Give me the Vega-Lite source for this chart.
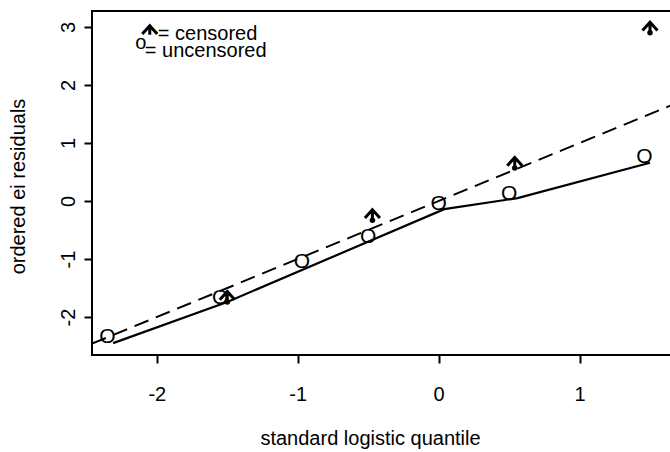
{
  "$schema": "https://vega.github.io/schema/vega-lite/v6.json",
  "autosize": {"type": "none"},
  "padding": {"left": 92, "top": 11, "right": 0, "bottom": 97},
  "width": 589,
  "height": 344,
  "background": "white",
  "config": {
    "font": "Liberation Sans",
    "view": {"stroke": "black", "strokeWidth": 2},
    "axis": {
      "grid": false,
      "domain": false,
      "tickColor": "black",
      "tickWidth": 2,
      "tickSize": 8,
      "labelColor": "black",
      "labelFontSize": 20,
      "labelFont": "Liberation Sans",
      "titleColor": "black",
      "titleFontSize": 20,
      "titleFont": "Liberation Sans",
      "titleFontWeight": "normal"
    }
  },
  "datasets": {
    "uncensored": [
      {"q": -2.35, "r": -2.33},
      {"q": -1.55, "r": -1.66},
      {"q": -0.97, "r": -1.03},
      {"q": -0.5, "r": -0.6},
      {"q": 0.0, "r": -0.03},
      {"q": 0.5, "r": 0.14},
      {"q": 1.46, "r": 0.78}
    ],
    "censored": [
      {"q": -1.5, "r": -1.74},
      {"q": -0.47, "r": -0.33},
      {"q": 0.54, "r": 0.57},
      {"q": 1.5, "r": 2.9}
    ],
    "fitted": [
      {"q": -2.31, "r": -2.45},
      {"q": -1.5, "r": -1.74},
      {"q": 0.04, "r": -0.14},
      {"q": 0.56, "r": 0.05},
      {"q": 1.5, "r": 0.66}
    ],
    "identity": [
      {"q": -2.46, "r": -2.46},
      {"q": 1.72, "r": 1.72}
    ],
    "keyText": [
      {"q": -1.993, "r": 2.875, "label": "= censored"},
      {"q": -2.085, "r": 2.59, "label": "= uncensored"}
    ],
    "keyOpen": [
      {"q": -2.113, "r": 2.72, "label": "o"}
    ],
    "keyCensored": [
      {"q": -2.05, "r": 2.84}
    ]
  },
  "encoding": {
    "x": {
      "field": "q",
      "type": "quantitative",
      "scale": {"domain": [-2.46, 1.72], "nice": false, "zero": false},
      "axis": {
        "values": [-2, -1, 0, 1],
        "labelExpr": "'' + datum.value",
        "labelPadding": 21,
        "title": "standard logistic quantile",
        "titleX": 278,
        "titleY": 83,
        "titleBaseline": "middle",
        "titleAlign": "center"
      }
    },
    "y": {
      "field": "r",
      "type": "quantitative",
      "scale": {"domain": [-2.655, 3.276], "nice": false, "zero": false},
      "axis": {
        "values": [-2, -1, 0, 1, 2, 3],
        "labelExpr": "'' + datum.value",
        "labelAngle": 270,
        "labelAlign": "center",
        "labelBaseline": "bottom",
        "labelPadding": 6,
        "title": "ordered ei residuals",
        "titleAngle": 270,
        "titleX": -74,
        "titleY": 175,
        "titleBaseline": "middle",
        "titleAlign": "center"
      }
    }
  },
  "layer": [
    {
      "data": {"name": "identity"},
      "mark": {"type": "line", "color": "black", "strokeWidth": 2, "strokeDash": [15, 8], "clip": true}
    },
    {
      "data": {"name": "fitted"},
      "mark": {"type": "line", "color": "black", "strokeWidth": 2.2, "clip": true}
    },
    {
      "data": {"name": "uncensored"},
      "mark": {"type": "text", "text": "O", "fontSize": 21, "font": "Liberation Sans", "color": "black", "baseline": "middle", "align": "center", "dy": 1}
    },
    {
      "data": {"name": "censored"},
      "mark": {"type": "point", "shape": "M -1 -0.3 L 0 -1.4 L 1 -0.3 M 0 -1.4 L 0 -0.2", "size": 225, "filled": false, "stroke": "black", "strokeWidth": 3, "opacity": 1}
    },
    {
      "data": {"name": "censored"},
      "mark": {"type": "point", "shape": "circle", "size": 30, "filled": true, "color": "black", "opacity": 1}
    },
    {
      "data": {"name": "keyCensored"},
      "mark": {"type": "point", "shape": "M -1 -0.3 L 0 -1.4 L 1 -0.3 M 0 -1.4 L 0 -0.2", "size": 225, "filled": false, "stroke": "black", "strokeWidth": 3, "opacity": 1}
    },
    {
      "data": {"name": "keyOpen"},
      "mark": {"type": "text", "fontSize": 20, "font": "Liberation Sans", "color": "black", "baseline": "middle", "align": "center"},
      "encoding": {"text": {"field": "label"}}
    },
    {
      "data": {"name": "keyText"},
      "mark": {"type": "text", "fontSize": 20, "font": "Liberation Sans", "color": "black", "baseline": "middle", "align": "left"},
      "encoding": {"text": {"field": "label"}}
    }
  ]
}
